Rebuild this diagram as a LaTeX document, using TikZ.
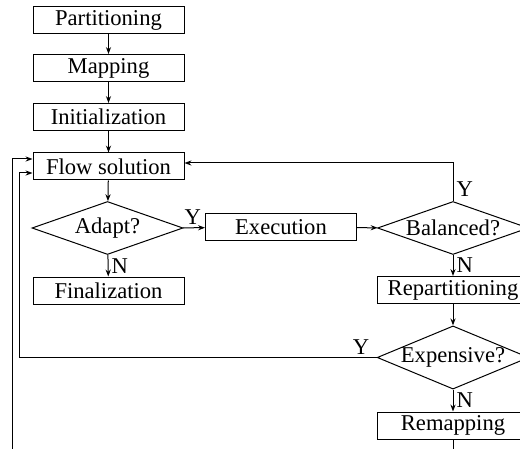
\documentclass[tikz,border=0pt]{standalone}
\usepackage{fontspec}
\setmainfont{Liberation Serif}
\usetikzlibrary{shapes.geometric, arrows.meta}

\tikzset{
  block/.style={draw, line width=0.5pt, minimum width=75.5pt, minimum height=13.5pt,
    inner sep=0pt, font=\fontsize{11.3}{13}\selectfont},
  test/.style={draw, diamond, line width=0.5pt, aspect=2.85, inner sep=0pt,
    minimum width=75.5pt, minimum height=26.5pt, font=\fontsize{11.3}{13}\selectfont},
  flow/.style={line width=0.5pt, -{Stealth[length=3.5pt, width=2.6pt, inset=1.2pt]}},
  yn/.style={inner sep=1.5pt, font=\fontsize{11.3}{13}\selectfont}
}

\begin{document}
\begin{tikzpicture}[x=0.5pt, y=-0.5pt]
  \useasboundingbox (0,0) rectangle (520,449);
  \clip (0,0) rectangle (520,449);

  % main column
  \node[block] (part) at (108.5,20) {Partitioning};
  \node[block] (map) at (108.5,68) {Mapping};
  \node[block] (init) at (108.5,117) {Initialization};
  \node[block] (flow) at (108.5,166.5) {Flow solution};
  \node[test] (adapt) at (107.5,228) {Adapt?};
  \node[block] (fin) at (108.5,290.5) {Finalization};

  % load balancing branch
  \node[block] (exec) at (281,227.5) {Execution};
  \node[test] (bal) at (453,228) {Balanced?};
  \node[block] (repart) at (453,290) {Repartitioning};
  \node[test, minimum height=31.5pt, aspect=2.4] (exp) at (453,357.5) {Expensive?};
  \node[block] (remap) at (453,425.5) {Remapping};
  \coordinate (out) at (453,449);
  \coordinate (in) at (12,449);

  \draw[flow] (part) -- (map);
  \draw[flow] (map) -- (init);
  \draw[flow] (init) -- (flow);
  \draw[flow] (flow) -- (adapt);
  \draw[flow] (adapt) -- node[yn, right]{N} (fin);
  \draw[flow] (adapt) -- node[yn, above, pos=0.45]{Y} (exec);
  \draw[flow] (exec) -- (bal);
  \draw[flow] (bal.north) |- node[yn, right, pos=0.15]{Y} ([yshift=1.75pt]flow.east);
  \draw[flow] (bal) -- node[yn, right]{N} (repart);
  \draw[flow] (repart) -- (exp);
  \draw[flow] (exp) -- node[yn, right]{N} (remap);
  \draw[flow] (exp.west) node[yn, above left, xshift=-2pt]{Y} -- ++(-357,0)
    |- ([yshift=-3.25pt]flow.west);
  \draw[line width=0.5pt] (remap) -- (out);
  \draw[flow] (in) |- ([yshift=3.75pt]flow.west);
\end{tikzpicture}
\end{document}
